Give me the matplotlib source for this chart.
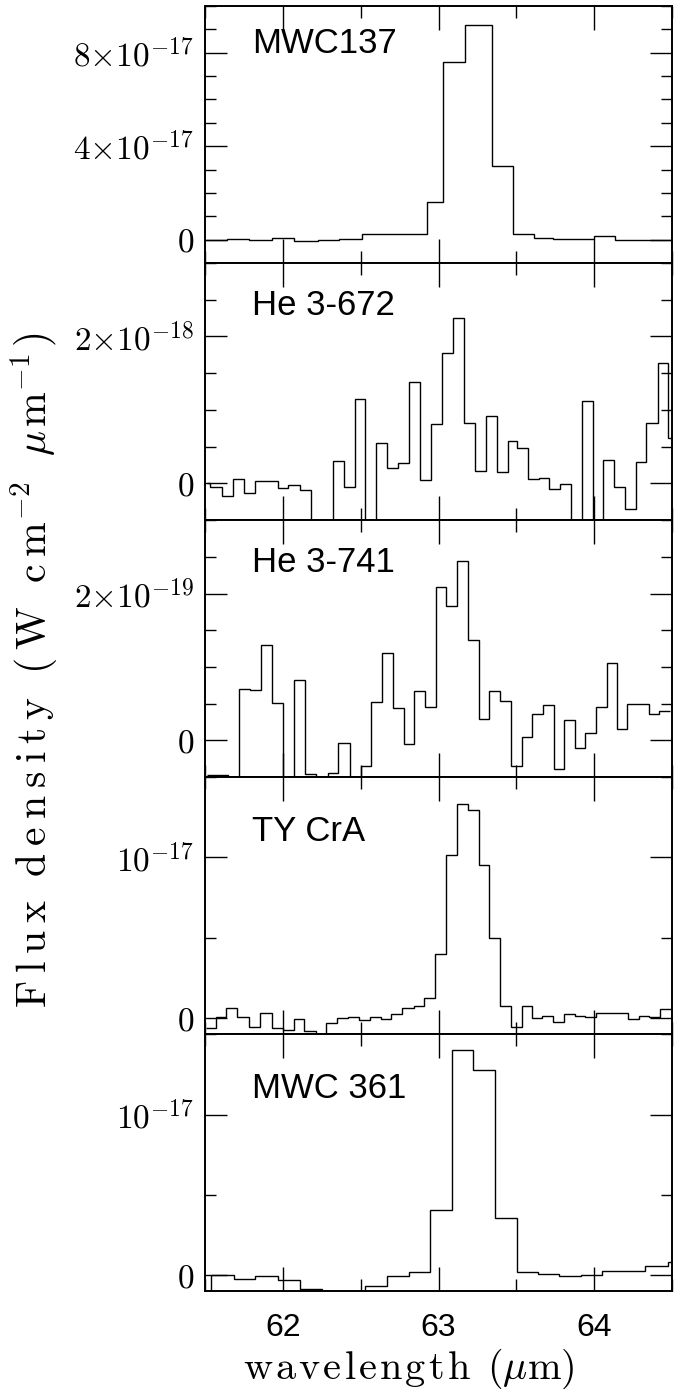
import numpy as np
import matplotlib
matplotlib.use("Agg")
import matplotlib.pyplot as plt
from matplotlib.ticker import MultipleLocator

plt.rcParams['font.family'] = ['Liberation Sans', 'DejaVu Sans']
plt.rcParams['mathtext.fontset'] = 'cm'

# ---- spectra: bin edges in micron, flux in the units noted ----
# MWC137 (units of 1e-18 W cm-2 um-1)
mwc137_edges = [61.50, 61.643, 61.785, 61.928, 62.069, 62.223, 62.361, 62.506,
                62.926, 63.029, 63.171, 63.346, 63.480, 63.615, 63.736, 63.998,
                64.131, 64.291, 64.440, 64.52]
mwc137_flux = [0.0, 0.43, -0.3, 0.7, -0.6, 0.0, 0.43, 2.3, 16.1, 75.9, 91.9,
               31.6, 2.3, 0.86, 0.43, 1.4, 0.0, -0.3, 0.0]

# He 3-672 (units of 1e-19)
he3672_edges = [61.512, 61.533, 61.607, 61.682, 61.752, 61.824, 61.968, 62.036,
                62.110, 62.180, 62.323, 62.393, 62.461, 62.527, 62.599, 62.669,
                62.741, 62.813, 62.881, 62.951, 63.021, 63.093, 63.161, 63.234,
                63.306, 63.374, 63.444, 63.507, 63.575, 63.645, 63.713, 63.783,
                63.854, 63.921, 63.992, 64.059, 64.130, 64.197, 64.268, 64.335,
                64.410, 64.473, 64.495]
he3672_flux = [0.0, -0.45, -1.72, 0.54, -1.27, 0.32, -0.68, -0.23, -0.86, -8.0,
               3.03, -0.50, 11.54, -8.0, 5.48, 2.04, 2.71, 13.85, 0.45, 8.05,
               17.69, 22.58, 8.24, 1.67, 9.14, 1.54, 5.75, 4.75, 0.54, 0.72,
               -0.81, -0.14, -8.0, 11.27, -8.0, 3.17, -0.50, -3.53, 2.90, 8.19,
               16.33, 6.20]

# He 3-741 (units of 1e-20)
he3741_edges = [61.512, 61.575, 61.650, 61.718, 61.792, 61.862, 61.932, 62.004,
                62.074, 62.144, 62.214, 62.287, 62.357, 62.429, 62.499, 62.567,
                62.639, 62.707, 62.777, 62.845, 62.913, 62.981, 63.051, 63.119,
                63.189, 63.259, 63.327, 63.397, 63.465, 63.535, 63.603, 63.673,
                63.741, 63.809, 63.875, 63.943, 64.013, 64.081, 64.149, 64.214,
                64.350, 64.416, 64.484]
he3741_flux = [-4.73, -4.64, -8.0, 7.0, 6.82, 12.95, 5.14, -8.0, 8.23, -4.55,
               -8.0, -4.45, -0.41, -8.0, -3.5, 5.27, 11.86, 4.45, -0.55, 6.68,
               4.55, 20.86, 18.36, 24.45, 13.68, 2.95, 6.73, 5.36, -3.45, 0.41,
               3.55, 4.77, -3.91, 2.73, -1.0, 0.95, 4.5, 10.55, 1.5, 5.0,
               3.55, 4.0]

# TY CrA (units of 1e-19)
tycra_edges = [61.508, 61.572, 61.636, 61.706, 61.781, 61.855, 61.928, 61.999,
               62.069, 62.137, 62.212, 62.280, 62.351, 62.421, 62.489, 62.559,
               62.628, 62.698, 62.766, 62.841, 62.909, 62.979, 63.050, 63.118,
               63.189, 63.259, 63.327, 63.397, 63.466, 63.534, 63.598, 63.668,
               63.736, 63.805, 63.875, 63.943, 64.009, 64.078, 64.152, 64.220,
               64.286, 64.355, 64.423, 64.493]
tycra_flux = [-6.4, 0.9, 6.4, 0.9, -5.3, 3.3, -6.4, -7.4, -0.8, -7.8,
              -12.0, -2.9, -0.2, 0.9, -1.2, 0.9, -0.8, 2.5, 6.4, 7.4,
              12.8, 39.9, 101.7, 133.1, 129.6, 95.5, 50.0, 7.4, -5.3, 7.4,
              0.2, 1.5, -2.2, 2.3, 1.5, 0.9, 2.9, 3.3, 2.9, -0.6,
              1.5, 0.9, 5.4]

# MWC 361 (units of 1e-19)
mwc361_edges = [61.40, 61.536, 61.683, 61.824, 61.971, 62.109, 62.250, 62.389,
                62.527, 62.666, 62.809, 62.947, 63.086, 63.224, 63.363, 63.502,
                63.640, 63.775, 63.918, 64.050, 64.192, 64.329, 64.472, 64.61]
mwc361_flux = [-15.0, 0.2, -2.1, -0.4, -3.1, -8.75, -15.0, -15.0, -6.7, -0.8,
               2.3, 40.6, 140.4, 127.9, 35.8, 2.3, 1.0, -0.8, 0.2, 2.7,
               2.7, 5.8, 8.5]

names = ["MWC137", "He 3-672", "He 3-741", "TY CrA", "MWC 361"]
edges = [mwc137_edges, he3672_edges, he3741_edges, tycra_edges, mwc361_edges]
fluxes = [mwc137_flux, he3672_flux, he3741_flux, tycra_flux, mwc361_flux]
units = [1e-18, 1e-19, 1e-20, 1e-19, 1e-19]

y_limits = [(-1e-17, 1e-16), (-5e-19, 3e-18), (-5e-20, 3e-19),
            (-1e-18, 1.5e-17), (-1e-18, 1.5e-17)]
y_ticks = [[0, 4e-17, 8e-17], [0, 2e-18], [0, 2e-19], [0, 1e-17], [0, 1e-17]]
y_ticklabels = [[r"$0$", r"$4{\times}10^{-17}$", r"$8{\times}10^{-17}$"],
                [r"$0$", r"$2{\times}10^{-18}$"],
                [r"$0$", r"$2{\times}10^{-19}$"],
                [r"$0$", r"$10^{-17}$"],
                [r"$0$", r"$10^{-17}$"]]
y_minor = [1e-17, 5e-19, 5e-20, 5e-18, 5e-18]
name_y = [0.816, 0.798, 0.800, 0.751, 0.751]


def tracked(word, gap):
    # loosen the letter spacing of a roman word inside mathtext
    return (r"\hspace{%.2f}" % gap).join(word)


fig, axes = plt.subplots(5, 1, sharex=True, figsize=(6.91, 13.91), dpi=100)
fig.subplots_adjust(left=0.2967, right=0.9725, bottom=0.0717, top=0.9957, hspace=0)

for i, ax in enumerate(axes):
    flux = np.array(fluxes[i]) * units[i]
    ax.stairs(flux, edges[i], baseline=None, color='black', linewidth=1.0)

    ax.set_xlim(61.5, 64.5)
    ax.set_ylim(*y_limits[i])
    ax.set_yticks(y_ticks[i], y_ticklabels[i])
    ax.yaxis.set_minor_locator(MultipleLocator(y_minor[i]))
    ax.xaxis.set_major_locator(MultipleLocator(1))
    ax.xaxis.set_minor_locator(MultipleLocator(0.5))

    ax.tick_params(which='both', direction='in', top=True, right=True, width=1.0)
    ax.tick_params(axis='x', which='major', length=17, labelsize=23, pad=16)
    ax.tick_params(axis='x', which='minor', length=8.5)
    ax.tick_params(axis='y', which='major', length=16, labelsize=24, pad=8)
    ax.tick_params(axis='y', which='minor', length=8)
    for sp in ax.spines.values():
        sp.set_linewidth(1.4)

    ax.text(0.1, name_y[i], names[i], transform=ax.transAxes,
            ha='left', va='baseline', fontsize=25)

gy = 0.22
sp_y = r"\hspace{0.65}"
ylabel = (r"$\mathrm{" + tracked("Flux", gy) + sp_y + tracked("density", gy)
          + sp_y + tracked("(W", gy) + sp_y + tracked("cm", gy) + r"^{-2}}" + sp_y
          + r"\mu\hspace{0.1}\mathrm{m^{-1}\hspace{0.1})}$")
gx = 0.09
xlabel = (r"$\mathrm{" + tracked("wavelength", gx) + r"\hspace{0.5}(}"
          + r"\mu\mathrm{m)}$")

fig.text(0.05, 0.518, ylabel, rotation=90, ha='center', va='center', fontsize=30)
fig.text(0.592, 0.016, xlabel, ha='center', va='center', fontsize=29)

plt.savefig("out.png", dpi=100)
plt.close()
